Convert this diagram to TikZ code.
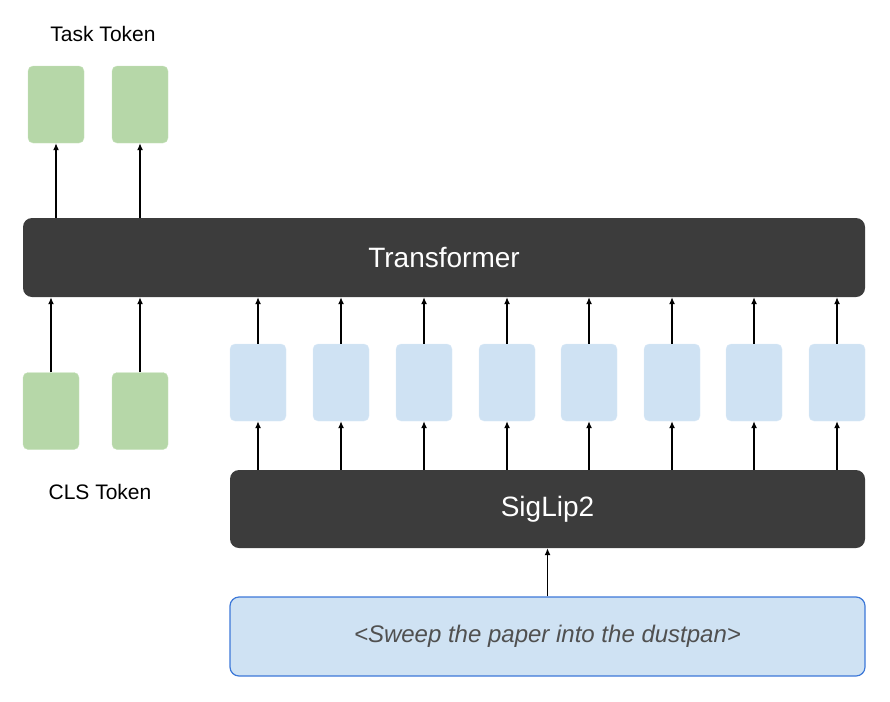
\documentclass[tikz,border=0pt]{standalone}
\usepackage{fontspec}
\setmainfont{Liberation Sans}
\usetikzlibrary{arrows.meta}
\definecolor{gfill}{HTML}{B6D7A8}
\definecolor{gline}{HTML}{C9E3BE}
\definecolor{bfill}{HTML}{CFE2F3}
\definecolor{bline}{HTML}{DCEAF7}
\definecolor{dark}{HTML}{3C3C3C}
\definecolor{pline}{HTML}{3C78D8}
\begin{document}
\begin{tikzpicture}[x=1pt,y=-1pt,
  green/.style={draw=gline,fill=gfill,rounded corners=5pt,minimum width=56pt,minimum height=77pt,inner sep=0pt},
  blue/.style={draw=bline,fill=bfill,rounded corners=5pt,minimum width=56pt,minimum height=77pt,inner sep=0pt},
  block/.style={fill=dark,rounded corners=9pt,text=white,font=\fontsize{28}{32}\selectfont,inner sep=0pt},
  arr/.style={-{Latex[length=7pt,width=6pt]},line width=1.2pt},
  lbl/.style={font=\fontsize{21}{24}\selectfont}]
\useasboundingbox (0,0) rectangle (890,701);
\node[lbl] (task) at (103,34) {Task Token};
\node[lbl] (cls) at (100,492) {CLS Token};
\node[green] (t1) at (56,104.5) {};
\node[green] (t2) at (140,104.5) {};
\node[green] (c1) at (51,411) {};
\node[green] (c2) at (140,411) {};
\node[block,minimum width=842pt,minimum height=79pt] (tr) at (444,257.5) {Transformer};
\node[block,minimum width=635pt,minimum height=78pt] (sl) at (547.5,509) {SigLip2};
\node[draw=pline,line width=1.2pt,fill=bfill,rounded corners=9pt,minimum width=635pt,minimum height=79pt,text=dark!90,font=\itshape\fontsize{24}{28}\selectfont] (pr) at (547.5,636.5) {<Sweep the paper into the dustpan>};
\foreach \i/\x in {1/258,2/341,3/424,4/507,5/589,6/672,7/754,8/837}{
  \node[blue] (b\i) at (\x,382.5) {};
  \draw[arr] (b\i.north) -- (b\i.north |- tr.south);
  \coordinate (s\i) at (b\i.south |- sl.north);
  \draw[arr] (s\i) -- (b\i.south);
}
\draw[arr] (t1.south |- tr.north) -- (t1.south);
\draw[arr] (t2.south |- tr.north) -- (t2.south);
\draw[arr] (c1.north) -- (c1.north |- tr.south);
\draw[arr] (c2.north) -- (c2.north |- tr.south);
\draw[arr] (pr.north) -- (sl.south);
\end{tikzpicture}
\end{document}
